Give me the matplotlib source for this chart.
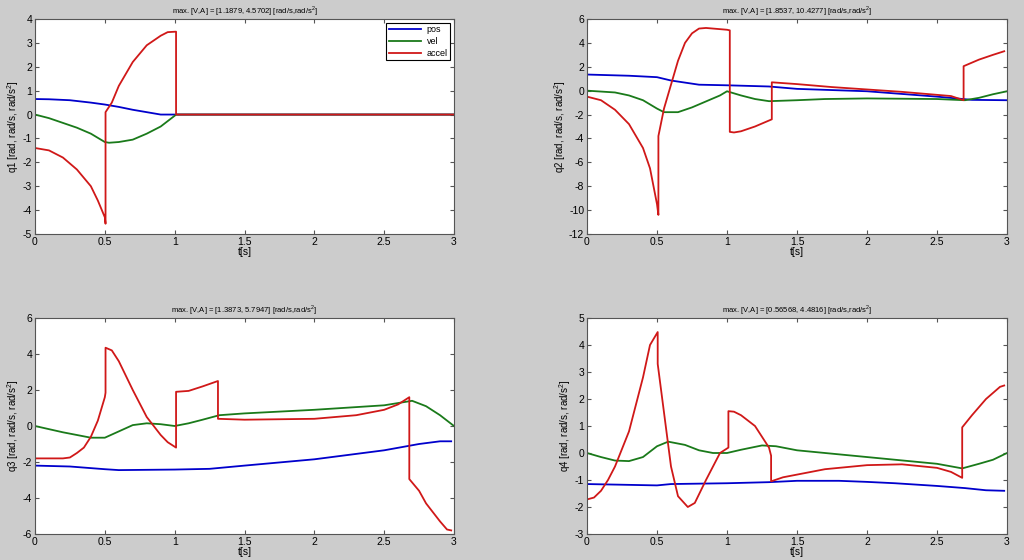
import matplotlib
matplotlib.use("Agg")
import matplotlib.pyplot as plt

plt.rcParams['font.family'] = ['Liberation Sans', 'DejaVu Sans']
plt.rcParams['axes.unicode_minus'] = False
plt.rcParams['mathtext.fontset'] = 'custom'
plt.rcParams['mathtext.rm'] = 'Liberation Sans'

# --- data (time in s) ---
titles = ["max. [V,A] = [1.1879, 4.5702] [rad/s,rad/s$^2$]",
          "max. [V,A] = [1.8537, 10.4277] [rad/s,rad/s$^2$]",
          "max. [V,A] = [1.3873, 5.7947] [rad/s,rad/s$^2$]",
          "max. [V,A] = [0.56568, 4.4816] [rad/s,rad/s$^2$]"]
ylabels = ["q1 [rad, rad/s, rad/s$^2$]", "q2 [rad, rad/s, rad/s$^2$]",
           "q3 [rad, rad/s, rad/s$^2$]", "q4 [rad, rad/s, rad/s$^2$]"]
ylims = [(-5, 4), (-12, 6), (-6, 6), (-3, 5)]

# q1
q1_pos_t = [0, 0.1, 0.25, 0.4, 0.5, 0.6, 0.7, 0.8, 0.85, 0.9, 1.0, 3.0]
q1_pos_v = [0.65, 0.64, 0.6, 0.5, 0.42, 0.32, 0.2, 0.1, 0.05, 0.0, 0.0, 0.0]
q1_vel_t = [0, 0.1, 0.2, 0.3, 0.4, 0.5, 0.53, 0.6, 0.7, 0.8, 0.9, 1.0, 1.01, 3.0]
q1_vel_v = [0, -0.15, -0.35, -0.55, -0.8, -1.15, -1.18, -1.15, -1.05, -0.8, -0.5, -0.05, 0, 0]
q1_acc_t = [0, 0.1, 0.2, 0.3, 0.4, 0.45, 0.5, 0.505, 0.505, 0.55, 0.6, 0.7, 0.8, 0.9, 0.95, 1.01, 1.01, 3.0]
q1_acc_v = [-1.4, -1.5, -1.8, -2.3, -3.0, -3.6, -4.3, -4.57, 0.1, 0.5, 1.2, 2.2, 2.9, 3.3, 3.45, 3.47, 0, 0]

# q2
q2_pos_t = [0, 0.3, 0.5, 0.6, 0.8, 1.0, 1.3, 1.5, 2.0, 2.5, 2.75, 3.0]
q2_pos_v = [1.35, 1.25, 1.13, 0.85, 0.5, 0.45, 0.35, 0.15, -0.05, -0.5, -0.77, -0.8]
q2_vel_t = [0, 0.2, 0.3, 0.4, 0.5, 0.55, 0.65, 0.75, 0.85, 0.95, 1.0, 1.1, 1.2, 1.3, 1.5, 1.7, 2.0, 2.5, 2.7, 2.8, 2.9, 3.0]
q2_vel_v = [0, -0.15, -0.4, -0.8, -1.5, -1.8, -1.8, -1.4, -0.9, -0.4, -0.05, -0.4, -0.7, -0.88, -0.8, -0.7, -0.65, -0.7, -0.8, -0.6, -0.3, -0.05]
q2_acc_t = [0, 0.1, 0.2, 0.3, 0.4, 0.45, 0.5, 0.51, 0.51, 0.55, 0.6, 0.65, 0.7, 0.75, 0.8, 0.85, 0.9, 1.0, 1.02, 1.02,
            1.05, 1.1, 1.2, 1.3, 1.32, 1.32, 1.5, 1.75, 2.0, 2.25, 2.5, 2.6, 2.69, 2.69, 2.8, 2.9, 2.98]
q2_acc_v = [-0.5, -0.8, -1.6, -2.8, -4.8, -6.5, -9.5, -10.4, -3.8, -1.5, 0.5, 2.5, 4.0, 4.8, 5.2, 5.25, 5.2, 5.1, 5.05, -3.45,
            -3.5, -3.4, -3.0, -2.5, -2.4, 0.7, 0.55, 0.3, 0.1, -0.1, -0.35, -0.45, -0.8, 2.05, 2.6, 3.0, 3.3]

# q3
q3_pos_t = [0, 0.25, 0.5, 0.6, 1.0, 1.25, 1.5, 2.0, 2.5, 2.75, 2.9, 2.98]
q3_pos_v = [-2.2, -2.25, -2.4, -2.45, -2.42, -2.38, -2.2, -1.85, -1.35, -1.0, -0.85, -0.85]
q3_vel_t = [0, 0.2, 0.4, 0.5, 0.6, 0.7, 0.8, 0.9, 1.0, 1.1, 1.2, 1.32, 1.5, 2.0, 2.5, 2.7, 2.8, 2.9, 3.0]
q3_vel_v = [0, -0.35, -0.65, -0.65, -0.3, 0.05, 0.15, 0.1, 0.0, 0.15, 0.35, 0.6, 0.7, 0.9, 1.15, 1.4, 1.1, 0.6, 0.0]
q3_acc_t = [0, 0.2, 0.25, 0.3, 0.35, 0.4, 0.45, 0.5, 0.505, 0.505, 0.55, 0.6, 0.7, 0.8, 0.9, 0.95, 1.01, 1.01,
            1.1, 1.2, 1.31, 1.31, 1.5, 2.0, 2.3, 2.5, 2.6, 2.68, 2.68, 2.75, 2.8, 2.9, 2.95, 2.98]
q3_acc_v = [-1.8, -1.8, -1.75, -1.5, -1.2, -0.6, 0.3, 1.6, 1.85, 4.35, 4.2, 3.6, 2.0, 0.5, -0.5, -0.9, -1.2, 1.9,
            1.95, 2.2, 2.5, 0.4, 0.35, 0.4, 0.6, 0.9, 1.2, 1.6, -2.95, -3.6, -4.3, -5.3, -5.75, -5.8]

# q4
q4_pos_t = [0, 0.5, 0.6, 1.0, 1.3, 1.5, 1.8, 2.0, 2.2, 2.5, 2.7, 2.85, 2.98]
q4_pos_v = [-1.15, -1.2, -1.15, -1.12, -1.08, -1.03, -1.03, -1.07, -1.12, -1.22, -1.3, -1.38, -1.4]
q4_vel_t = [0, 0.1, 0.2, 0.3, 0.4, 0.5, 0.58, 0.7, 0.8, 0.9, 1.0, 1.1, 1.25, 1.35, 1.5, 2.0, 2.5, 2.68, 2.8, 2.9, 3.0]
q4_vel_v = [0, -0.15, -0.28, -0.3, -0.15, 0.25, 0.42, 0.3, 0.1, 0.0, 0.0, 0.12, 0.28, 0.25, 0.1, -0.15, -0.4, -0.57, -0.4, -0.25, 0.0]
q4_acc_t = [0, 0.05, 0.1, 0.15, 0.2, 0.3, 0.4, 0.45, 0.505, 0.505, 0.55, 0.6, 0.65, 0.72, 0.77, 0.85, 0.95, 1.01, 1.01,
            1.05, 1.1, 1.2, 1.3, 1.315, 1.315, 1.4, 1.5, 1.7, 2.0, 2.25, 2.5, 2.6, 2.68, 2.68, 2.75, 2.85, 2.95, 2.98]
q4_acc_v = [-1.72, -1.65, -1.4, -1.0, -0.5, 0.8, 2.8, 4.0, 4.48, 3.3, 1.5, -0.5, -1.6, -2.0, -1.85, -1.0, 0.0, 0.2, 1.55,
            1.53, 1.4, 1.0, 0.2, -0.1, -1.05, -0.9, -0.8, -0.6, -0.45, -0.42, -0.55, -0.7, -0.92, 0.95, 1.4, 2.0, 2.45, 2.5]

series = [
    ((q1_pos_t, q1_pos_v), (q1_vel_t, q1_vel_v), (q1_acc_t, q1_acc_v)),
    ((q2_pos_t, q2_pos_v), (q2_vel_t, q2_vel_v), (q2_acc_t, q2_acc_v)),
    ((q3_pos_t, q3_pos_v), (q3_vel_t, q3_vel_v), (q3_acc_t, q3_acc_v)),
    ((q4_pos_t, q4_pos_v), (q4_vel_t, q4_vel_v), (q4_acc_t, q4_acc_v)),
]
names = ["pos", "vel", "accel"]
colors = ["#0000cc", "#1a7a1a", "#d01818"]

bg = "#cccccc"
fig = plt.figure(figsize=(10.24, 5.6), dpi=100, facecolor=bg)
W, H = 1024., 560.
boxes = [(35, 19, 454, 234), (587, 19, 1007, 234), (35, 318, 454, 534), (587, 318, 1007, 534)]

for k in range(4):
    x0, y0, x1, y1 = boxes[k]
    ax = fig.add_axes([x0 / W, 1 - y1 / H, (x1 - x0) / W, (y1 - y0) / H])
    for (t, v), c, n in zip(series[k], colors, names):
        ax.plot(t, v, color=c, lw=1.3, label=n)
    ax.set_xlim(0, 3)
    ax.set_ylim(*ylims[k])
    ax.set_xticks([0, 0.5, 1, 1.5, 2, 2.5, 3])
    ax.set_xticklabels(["0", "0.5", "1", "1.5", "2", "2.5", "3"])
    ax.tick_params(direction="in", top=True, right=True, labelsize=7.5, length=3, pad=2, color="#555555")
    for s in ax.spines.values():
        s.set_color("#555555")
        s.set_linewidth(0.8)
    ax.set_title(titles[k], fontsize=5.5, pad=4)
    ax.set_ylabel(ylabels[k], fontsize=7, labelpad=1)
    ax.set_xlabel("t[s]", fontsize=7.5, labelpad=0)
    if k == 0:
        leg = ax.legend(loc="upper right", fontsize=6.5, fancybox=False, framealpha=1,
                        edgecolor="black", handlelength=3.6, borderaxespad=0.4,
                        labelspacing=0.3, borderpad=0.3, handletextpad=0.6)
        leg.get_frame().set_linewidth(0.8)

fig.savefig("out.png", dpi=100, facecolor=bg)
